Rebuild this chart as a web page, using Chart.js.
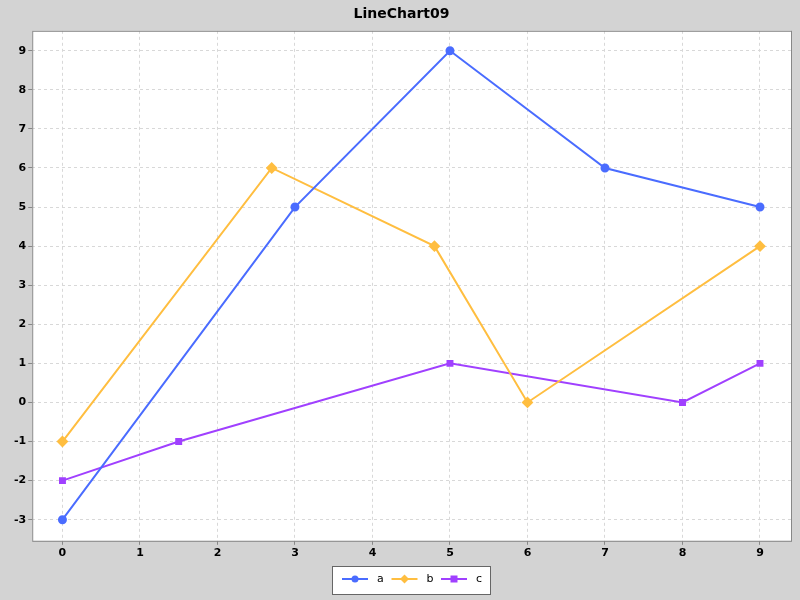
<!DOCTYPE html>
<html><head><meta charset="utf-8">
<script src="https://cdn.jsdelivr.net/npm/chart.js@4/dist/chart.umd.min.js"></script>
<style>html,body{margin:0;padding:0;background:#d3d3d3}#w{width:800px;height:600px}</style>
</head><body><div id="w"><canvas id="c" width="800" height="600"></canvas></div>
<script>
const xA=[0,3,5,7,9], yA=[-3,5,9,6,5];
const xB=[0,2.7,4.8,6,9], yB=[-1,6,4,0,4];
const xC=[0,1.5,5,8,9], yC=[-2,-1,1,0,1];
const xTicks=[0,1,2,3,4,5,6,7,8,9];
const yTicks=[-3,-2,-1,0,1,2,3,4,5,6,7,8,9];
const pts=(xs,ys)=>xs.map((x,i)=>({x:x,y:ys[i]}));
const frame={id:'frame',
 beforeDraw(ch){const a=ch.chartArea,c=ch.ctx;c.save();c.fillStyle='#fff';c.fillRect(a.left,a.top,a.right-a.left,a.bottom-a.top);c.restore();},
 afterDraw(ch){const a=ch.chartArea,c=ch.ctx;c.save();c.strokeStyle='#888';c.lineWidth=1;c.strokeRect(a.left+0.5,a.top+0.5,a.right-a.left,a.bottom-a.top);
  const L=332,T=566,W=158,H=28;c.fillStyle='#fff';c.fillRect(L,T,W,H);c.strokeStyle='#666';c.strokeRect(L+0.5,T+0.5,W,H);
  const cy=T+13;c.font='11px "DejaVu Sans"';c.textBaseline='middle';
  ch.data.datasets.forEach((d,i)=>{const x0=L+10+i*49.5;c.strokeStyle=d.borderColor;c.lineWidth=2;c.beginPath();c.moveTo(x0,cy);c.lineTo(x0+26,cy);c.stroke();
   c.fillStyle=d.borderColor;const mx=x0+13;c.beginPath();
   if(d.pointStyle==='circle'){c.arc(mx,cy,3.5,0,Math.PI*2);}else if(d.pointStyle==='rect'){c.rect(mx-3.5,cy-3.5,7,7);}else{c.moveTo(mx,cy-4.5);c.lineTo(mx+4.5,cy);c.lineTo(mx,cy+4.5);c.lineTo(mx-4.5,cy);c.closePath();}
   c.fill();c.fillStyle='#000';c.fillText(d.label,x0+35,cy);});
  c.restore();}};
Chart.defaults.font.family='"DejaVu Sans"';
new Chart(document.getElementById('c'),{type:'line',
 data:{datasets:[
  {label:'a',data:pts(xA,yA),borderColor:'#4a6cff',backgroundColor:'#4a6cff',pointStyle:'circle',pointRadius:3.5,borderWidth:2},
  {label:'b',data:pts(xB,yB),borderColor:'#ffbe40',backgroundColor:'#ffbe40',pointStyle:'rectRot',pointRadius:4.5,borderWidth:2},
  {label:'c',data:pts(xC,yC),borderColor:'#a040ff',backgroundColor:'#a040ff',pointStyle:'rect',pointRadius:3.5,borderWidth:2}]},
 options:{responsive:false,animation:false,
  layout:{padding:{left:12,right:9,top:0,bottom:38}},
  plugins:{title:{display:true,text:'LineChart09',color:'#000',font:{size:14,weight:'bold'},padding:{top:6,bottom:8}},
   legend:{display:false},tooltip:{enabled:false}},
  scales:{
   x:{type:'linear',min:-0.39,max:9.4,afterBuildTicks(s){s.ticks=xTicks.map(v=>({value:v}));},
    grid:{color:'#d8d8d8',tickColor:'#888',tickLength:4,drawOnChartArea:true},border:{dash:[3,3],display:false},
    ticks:{color:'#000',font:{size:11,weight:'bold'},padding:2,autoSkip:false}},
   y:{type:'linear',min:-3.54,max:9.51,afterBuildTicks(s){s.ticks=yTicks.map(v=>({value:v}));},
    grid:{color:'#d8d8d8',tickColor:'#888',tickLength:4},border:{dash:[3,3],display:false},
    ticks:{color:'#000',font:{size:11,weight:'bold'},padding:2,autoSkip:false}}}},
 plugins:[frame]});
</script></body></html>
